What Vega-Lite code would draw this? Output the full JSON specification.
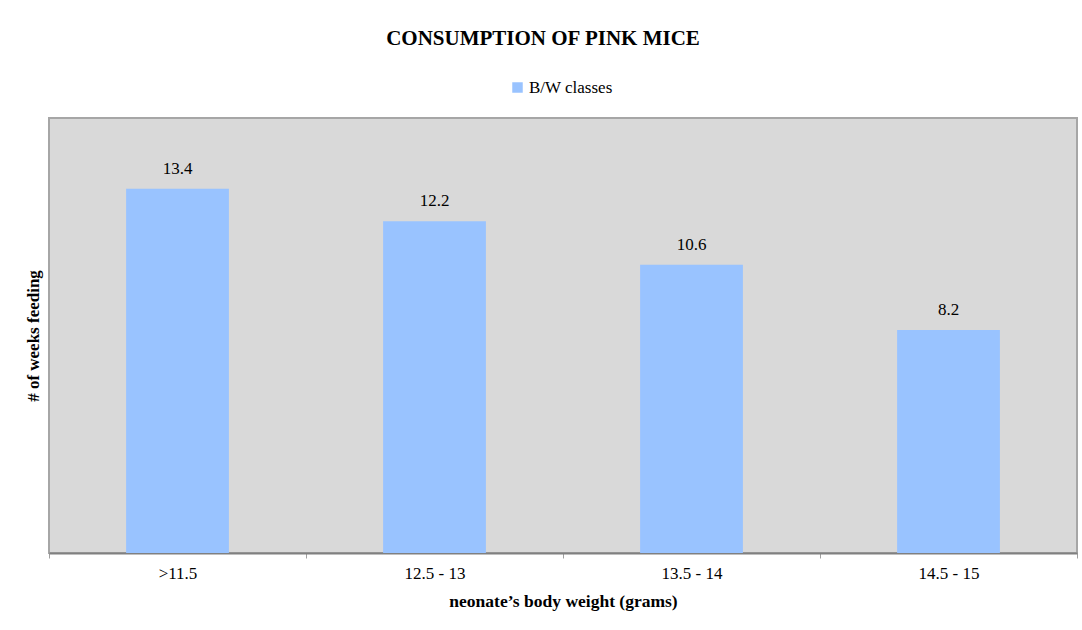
{
  "$schema": "https://vega.github.io/schema/vega-lite/v6.json",
  "width": 1028,
  "height": 435,
  "autosize": "none",
  "padding": {"left": 49, "top": 118, "right": 5, "bottom": 77},
  "background": "white",
  "title": {
    "text": "CONSUMPTION OF PINK MICE",
    "font": "Liberation Serif",
    "fontSize": 21,
    "fontWeight": "bold",
    "color": "black",
    "anchor": "middle",
    "offset": 30,
    "dx": -20
  },
  "data": {
    "values": [
      {"weight": ">11.5", "weeks": 13.4, "series": "B/W classes"},
      {"weight": "12.5 - 13", "weeks": 12.2, "series": "B/W classes"},
      {"weight": "13.5 - 14", "weeks": 10.6, "series": "B/W classes"},
      {"weight": "14.5 - 15", "weeks": 8.2, "series": "B/W classes"}
    ]
  },
  "encoding": {
    "x": {
      "field": "weight",
      "type": "nominal",
      "sort": null,
      "scale": {"paddingInner": 0, "paddingOuter": 0},
      "axis": {
        "title": "neonate’s body weight (grams)",
        "labelAngle": 0,
        "labelFont": "Liberation Serif",
        "labelFontSize": 17,
        "labelColor": "black",
        "labelPadding": 7,
        "tickBand": "extent",
        "tickSize": 5,
        "tickColor": "#a0a0a0",
        "domainColor": "#808080",
        "domainWidth": 2,
        "titleFont": "Liberation Serif",
        "titleFontSize": 17.5,
        "titleFontWeight": "bold",
        "titleColor": "black",
        "titlePadding": 11
      }
    },
    "y": {
      "field": "weeks",
      "type": "quantitative",
      "scale": {"domain": [0, 16]},
      "axis": {
        "title": "# of weeks feeding",
        "labels": false,
        "ticks": false,
        "domain": false,
        "grid": false,
        "titleFont": "Liberation Serif",
        "titleFontSize": 17,
        "titleFontWeight": "bold",
        "titleColor": "black",
        "titlePadding": 7
      }
    }
  },
  "layer": [
    {
      "mark": {"type": "bar", "width": {"band": 0.4}},
      "encoding": {
        "color": {
          "field": "series",
          "type": "nominal",
          "scale": {"range": ["#99c3ff"]},
          "legend": {
            "title": null,
            "orient": "none",
            "legendX": 460,
            "legendY": -39,
            "symbolType": "square",
            "symbolSize": 110,
            "symbolStrokeWidth": 0,
            "symbolOpacity": 1,
            "labelFont": "Liberation Serif",
            "labelFontSize": 17,
            "labelColor": "black",
            "labelOffset": 3
          }
        }
      }
    },
    {
      "mark": {
        "type": "text",
        "dy": -20,
        "font": "Liberation Serif",
        "fontSize": 17,
        "color": "black"
      },
      "encoding": {
        "text": {"field": "weeks", "type": "quantitative", "format": ".1f"}
      }
    }
  ],
  "config": {
    "view": {"fill": "#d9d9d9", "stroke": "#a6a6a6", "strokeWidth": 2}
  }
}
